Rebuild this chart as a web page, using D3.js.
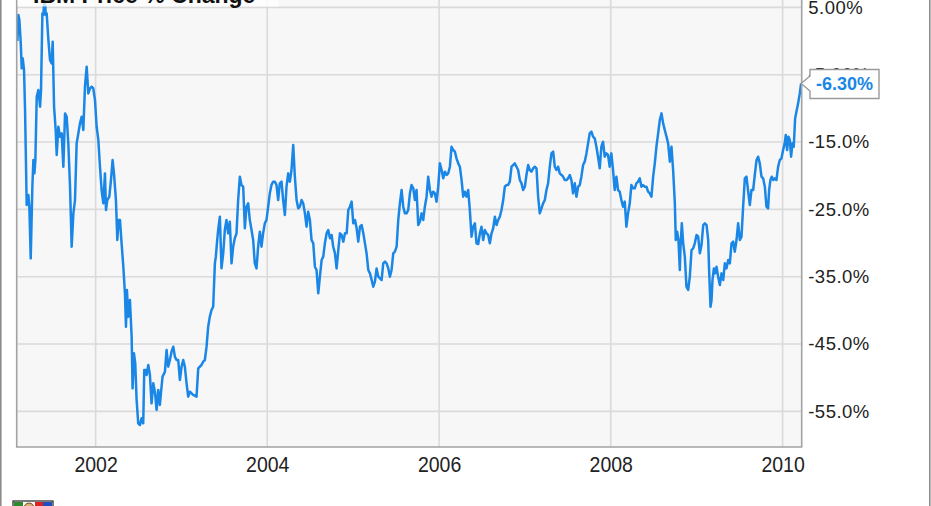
<!DOCTYPE html>
<html>
<head>
<meta charset="utf-8">
<script src="https://cdn.jsdelivr.net/npm/d3@7/dist/d3.min.js"></script>
<style>
  html, body { margin: 0; padding: 0; background: #fff; }
  svg { display: block; }
</style>
</head>
<body>
<svg id="chart" width="931" height="506"></svg>
<script>
// ---------------- DATA ----------------
const chartTitle = "IBM Price % Change";
const yTickValues = [5, -5, -15, -25, -35, -45, -55];
const xTickYears = [2002, 2004, 2006, 2008, 2010];
// [decimal year, % change since start]
const priceChange = [
  [2001.089,0.0],[2001.100,3.87],[2001.112,3.12],[2001.128,-0.34],[2001.139,-4.05],[2001.151,-2.57],[2001.166,-4.30],[2001.178,-10.24],
  [2001.197,-24.35],[2001.217,-22.87],[2001.228,-24.60],[2001.244,-32.27],[2001.263,-21.63],[2001.275,-17.67],[2001.287,-19.65],[2001.298,-17.67],
  [2001.314,-8.26],[2001.333,-7.27],[2001.353,-9.75],[2001.364,-7.27],[2001.380,4.11],[2001.391,3.87],[2001.407,7.0],[2001.419,3.87],
  [2001.430,4.11],[2001.450,0.15],[2001.469,-2.82],[2001.488,-3.31],[2001.500,-0.09],[2001.516,-9.75],[2001.535,-13.21],[2001.547,-16.92],
  [2001.566,-12.72],[2001.585,-14.20],[2001.605,-13.71],[2001.624,-18.66],[2001.644,-10.74],[2001.663,-11.23],[2001.682,-15.19],[2001.702,-21.63],
  [2001.721,-30.54],[2001.741,-25.59],[2001.760,-23.61],[2001.779,-15.19],[2001.799,-13.71],[2001.818,-12.22],[2001.838,-11.23],[2001.857,-13.21],
  [2001.876,-6.78],[2001.896,-3.81],[2001.915,-7.77],[2001.935,-7.02],[2001.954,-6.78],[2001.973,-7.02],[2001.993,-8.76],[2002.012,-12.72],
  [2002.032,-14.70],[2002.051,-18.66],[2002.070,-22.12],[2002.090,-24.10],[2002.109,-19.65],[2002.121,-25.09],[2002.136,-23.61],[2002.160,-23.11],
  [2002.179,-20.64],[2002.198,-17.67],[2002.214,-19.65],[2002.237,-23.61],[2002.253,-29.55],[2002.268,-26.58],[2002.284,-26.58],[2002.303,-30.04],
  [2002.323,-33.51],[2002.342,-37.47],[2002.354,-42.42],[2002.365,-36.97],[2002.381,-40.93],[2002.400,-38.46],[2002.420,-43.90],[2002.431,-51.58],
  [2002.447,-46.38],[2002.462,-47.86],[2002.478,-53.31],[2002.497,-56.77],[2002.517,-57.02],[2002.536,-56.03],[2002.555,-56.77],[2002.567,-48.85],
  [2002.583,-48.85],[2002.594,-49.59],[2002.614,-48.11],[2002.633,-49.59],[2002.652,-53.80],[2002.672,-50.83],[2002.691,-52.07],[2002.711,-54.79],
  [2002.730,-51.82],[2002.749,-54.05],[2002.761,-52.32],[2002.780,-49.84],[2002.808,-49.10],[2002.827,-45.88],[2002.846,-48.35],[2002.866,-47.37],
  [2002.885,-46.13],[2002.905,-45.39],[2002.924,-46.87],[2002.943,-47.37],[2002.963,-47.37],[2002.982,-50.34],[2003.002,-48.35],[2003.021,-47.37],
  [2003.040,-48.35],[2003.060,-50.83],[2003.079,-52.81],[2003.099,-52.07],[2003.118,-52.32],[2003.137,-52.56],[2003.176,-52.81],[2003.196,-48.60],
  [2003.215,-48.35],[2003.234,-48.11],[2003.254,-47.61],[2003.273,-47.37],[2003.293,-45.39],[2003.312,-42.42],[2003.331,-40.93],[2003.351,-39.94],
  [2003.370,-39.45],[2003.390,-33.01],[2003.401,-32.02],[2003.417,-29.55],[2003.428,-28.06],[2003.448,-26.08],[2003.467,-33.75],[2003.487,-31.53],
  [2003.506,-28.06],[2003.525,-26.58],[2003.545,-28.56],[2003.564,-26.83],[2003.584,-33.01],[2003.603,-30.54],[2003.622,-29.30],[2003.642,-28.56],
  [2003.661,-23.61],[2003.681,-20.14],
  [2003.700,-21.38],[2003.720,-21.63],[2003.739,-27.81],[2003.758,-24.60],[2003.778,-24.10],[2003.797,-26.58],[2003.817,-28.06],[2003.836,-29.55],
  [2003.855,-33.01],[2003.875,-33.76],[2003.894,-30.54],[2003.914,-28.31],[2003.933,-30.54],[2003.952,-28.56],[2003.972,-27.07],[2003.991,-26.58],
  [2004.011,-24.60],[2004.030,-22.62],[2004.049,-21.38],[2004.069,-20.88],[2004.088,-20.88],[2004.108,-21.38],[2004.127,-23.61],[2004.146,-21.13],
  [2004.166,-20.88],[2004.185,-23.61],[2004.205,-25.83],[2004.224,-21.63],[2004.244,-19.65],[2004.263,-20.88],[2004.282,-19.15],[2004.302,-15.44],
  [2004.321,-20.14],[2004.341,-23.61],[2004.360,-24.84],[2004.379,-24.60],[2004.399,-23.61],[2004.418,-24.10],[2004.438,-25.59],[2004.457,-27.57],
  [2004.476,-25.34],[2004.496,-26.58],[2004.515,-29.55],[2004.535,-30.04],[2004.554,-33.51],[2004.573,-34.00],[2004.593,-37.47],[2004.612,-34.99],
  [2004.632,-32.52],[2004.651,-32.02],[2004.670,-30.04],[2004.690,-28.56],[2004.709,-28.06],[2004.729,-29.30],[2004.748,-28.80],[2004.767,-30.54],
  [2004.787,-31.53],[2004.806,-33.76],[2004.826,-31.03],[2004.845,-28.56],[2004.864,-28.80],[2004.884,-29.79],[2004.903,-28.56],[2004.923,-28.56],
  [2004.942,-25.09],[2004.961,-24.60],[2004.981,-23.85],[2005.000,-27.07],[2005.020,-26.58],[2005.039,-27.81],[2005.058,-29.79],[2005.078,-27.57],
  [2005.097,-27.32],[2005.117,-28.56],[2005.136,-30.04],[2005.155,-31.53],[2005.175,-34.00],[2005.194,-34.50],[2005.214,-35.49],[2005.233,-36.48],
  [2005.252,-35.73],[2005.272,-33.76],[2005.291,-34.99],[2005.311,-35.24],[2005.330,-35.49],[2005.349,-33.01],[2005.369,-32.76],[2005.388,-33.01],
  [2005.408,-33.76],[2005.427,-34.99],[2005.446,-34.00],[2005.466,-31.53],[2005.485,-31.28],[2005.505,-30.54],[2005.524,-26.58],[2005.543,-24.10],
  [2005.563,-22.12],[2005.582,-24.60],[2005.602,-25.59],[2005.621,-25.59],[2005.640,-25.09],[2005.660,-22.62],[2005.679,-21.38],[2005.699,-21.87],
  [2005.718,-23.61],[2005.737,-22.12],[2005.757,-27.32],[2005.776,-26.82],[2005.796,-25.59],[2005.815,-26.58],[2005.834,-24.60],[2005.854,-23.11],
  [2005.873,-20.14],[2005.893,-22.12],[2005.912,-23.11],[2005.931,-22.37],[2005.951,-22.62],[2005.970,-23.85],[2005.990,-21.63],[2006.009,-18.16],
  [2006.029,-19.15],[2006.048,-20.39],[2006.067,-19.40],[2006.087,-19.89],[2006.106,-19.65],[2006.126,-18.66],[2006.145,-15.69],[2006.164,-16.18],
  [2006.184,-16.43],[2006.203,-17.42],[2006.223,-18.16],[2006.242,-18.66],
  [2006.262,-20.64],[2006.281,-23.11],[2006.300,-22.37],[2006.320,-23.11],[2006.339,-22.12],[2006.358,-25.09],[2006.378,-29.05],[2006.397,-27.57],
  [2006.417,-27.07],[2006.436,-30.04],[2006.456,-30.14],[2006.475,-28.56],[2006.494,-27.57],[2006.514,-29.55],[2006.533,-28.06],[2006.553,-28.56],
  [2006.572,-28.80],[2006.591,-30.04],[2006.611,-28.56],[2006.630,-27.81],[2006.650,-26.08],[2006.669,-27.32],[2006.688,-26.58],[2006.708,-26.08],
  [2006.727,-25.09],[2006.747,-23.61],[2006.766,-21.63],[2006.785,-21.38],[2006.805,-21.38],[2006.824,-20.88],[2006.844,-18.66],[2006.863,-18.41],
  [2006.882,-18.16],[2006.902,-18.66],[2006.921,-19.15],[2006.941,-20.64],[2006.960,-21.13],[2006.979,-22.12],[2006.999,-21.63],[2007.018,-19.89],
  [2007.038,-18.41],[2007.057,-19.15],[2007.076,-19.40],[2007.096,-18.90],[2007.115,-18.66],[2007.135,-18.90],[2007.154,-23.11],[2007.173,-25.59],
  [2007.193,-24.84],[2007.212,-24.10],[2007.232,-23.61],[2007.251,-22.12],[2007.270,-21.13],[2007.290,-18.66],[2007.309,-16.68],[2007.329,-16.43],
  [2007.348,-18.66],[2007.367,-19.15],[2007.387,-18.66],[2007.406,-19.65],[2007.426,-19.89],[2007.445,-20.14],[2007.464,-20.64],[2007.484,-20.64],
  [2007.503,-20.39],[2007.523,-19.89],[2007.542,-20.64],[2007.561,-22.62],[2007.581,-21.13],[2007.600,-23.11],[2007.620,-21.63],[2007.639,-21.38],
  [2007.658,-20.14],[2007.678,-18.41],[2007.697,-17.91],[2007.717,-16.68],[2007.736,-15.19],[2007.755,-13.71],[2007.775,-13.46],[2007.794,-14.20],
  [2007.813,-14.45],[2007.833,-15.69],[2007.852,-17.17],[2007.872,-18.90],[2007.891,-15.69],[2007.910,-14.95],[2007.930,-17.17],[2007.949,-16.68],
  [2007.969,-16.92],[2007.988,-18.66],[2008.007,-16.68],[2008.027,-19.15],[2008.046,-22.12],[2008.066,-20.14],[2008.085,-22.12],[2008.104,-22.37],
  [2008.124,-23.61],[2008.143,-24.60],[2008.163,-23.85],[2008.182,-27.57],[2008.201,-25.59],[2008.221,-24.10],[2008.240,-21.38],[2008.260,-21.87],
  [2008.279,-21.87],[2008.298,-21.13],[2008.318,-20.88],[2008.337,-20.39],[2008.357,-21.63],[2008.376,-21.38],[2008.395,-21.63],[2008.415,-21.63],
  [2008.434,-22.37],[2008.454,-22.62],[2008.473,-23.11],[2008.493,-20.14],[2008.512,-18.16],[2008.531,-15.69],[2008.551,-13.71],[2008.570,-11.73],
  [2008.590,-10.74],[2008.609,-12.22],[2008.628,-13.21],[2008.648,-14.20],[2008.667,-15.19],[2008.687,-17.91],[2008.706,-15.69],[2008.725,-19.15],
  [2008.745,-24.10],[2008.756,-29.55],[2008.772,-28.31],[2008.787,-29.55],[2008.803,-34.00],[2008.811,-30.54],[2008.826,-27.07],[2008.842,-30.04],
  [2008.861,-32.02],[2008.880,-36.48],[2008.900,-36.97],[2008.919,-34.99],[2008.939,-31.03],[2008.958,-30.78],[2008.977,-30.04],[2008.997,-28.80],
  [2009.016,-29.05],[2009.036,-31.53],
  [2009.055,-30.29],[2009.075,-27.32],[2009.094,-27.07],[2009.114,-27.32],[2009.133,-29.55],[2009.145,-34.50],[2009.160,-39.45],[2009.172,-38.46],
  [2009.183,-35.49],[2009.199,-33.76],[2009.214,-34.50],[2009.230,-33.51],[2009.249,-34.99],[2009.269,-36.23],[2009.288,-34.50],[2009.308,-35.49],
  [2009.327,-33.01],[2009.346,-33.76],[2009.366,-32.52],[2009.385,-33.01],[2009.405,-30.04],[2009.424,-29.79],[2009.443,-31.28],[2009.463,-29.55],
  [2009.482,-27.07],[2009.502,-29.55],[2009.521,-29.05],[2009.540,-24.60],[2009.560,-20.39],[2009.579,-20.14],[2009.599,-22.37],[2009.618,-24.35],
  [2009.637,-22.12],[2009.657,-22.12],[2009.676,-19.89],[2009.696,-17.67],[2009.715,-17.17],[2009.734,-18.16],[2009.754,-20.14],[2009.773,-20.39],
  [2009.793,-21.63],[2009.812,-24.60],[2009.831,-24.84],[2009.843,-22.12],[2009.858,-20.64],[2009.874,-20.14],[2009.890,-20.64],[2009.909,-20.39],
  [2009.928,-20.64],[2009.948,-18.66],[2009.967,-17.67],[2009.987,-17.42],[2010.006,-16.18],[2010.025,-15.19],[2010.037,-13.95],[2010.053,-16.18],
  [2010.068,-14.20],[2010.084,-14.70],[2010.099,-17.17],[2010.115,-15.19],[2010.130,-15.69],[2010.146,-11.48],[2010.161,-10.49],[2010.181,-9.25],
  [2010.200,-7.77],[2010.216,-6.30]
];

// ---------------- HELPERS ----------------
function yearToDate(y) {
  const yr = Math.floor(y);
  const a = new Date(yr, 0, 1), b = new Date(yr + 1, 0, 1);
  return new Date(+a + (y - yr) * (b - a));
}
const locale = d3.formatLocale({decimal: ".", thousands: ",", grouping: [3], currency: ["$", ""], minus: "-"});
const pctFmt = d => locale.format(".3r")(d) + "%";
const series = priceChange.map(([t, v]) => ({date: yearToDate(t), value: v}));

// ---------------- LAYOUT ----------------
const W = 931, H = 506;
const plot = {left: 16.7, right: 801.7, top: -30, bottom: 447};
const FONT = "'Liberation Sans', Arial, Helvetica, sans-serif";
const lineColor = "#1a86e6";

const svg = d3.select("#chart");

const x = d3.scaleTime()
  .domain([new Date(2002, 0, 1), new Date(2010, 0, 1)])
  .range([95.6, 782.6]);
const y = d3.scaleLinear()
  .domain([5, -55])
  .range([7.4, 411.4]);

// outer frame
svg.append("line").attr("x1", 0.8).attr("x2", 0.8).attr("y1", 0).attr("y2", H)
  .attr("stroke", "#8c8c8c").attr("stroke-width", 1.6);
svg.append("line").attr("x1", 929.8).attr("x2", 929.8).attr("y1", 0).attr("y2", H)
  .attr("stroke", "#8c8c8c").attr("stroke-width", 1.6);

// plot background
svg.append("rect")
  .attr("x", plot.left).attr("y", plot.top)
  .attr("width", plot.right - plot.left).attr("height", plot.bottom - plot.top)
  .attr("fill", "#f7f7f7");

// grid lines
svg.append("g").selectAll("line").data(yTickValues).join("line")
  .attr("x1", plot.left).attr("x2", plot.right)
  .attr("y1", d => y(d)).attr("y2", d => y(d))
  .attr("stroke", "#dadada").attr("stroke-width", 1.6);
svg.append("g").selectAll("line").data(xTickYears).join("line")
  .attr("x1", d => x(new Date(d, 0, 1))).attr("x2", d => x(new Date(d, 0, 1)))
  .attr("y1", plot.top).attr("y2", plot.bottom)
  .attr("stroke", "#dadada").attr("stroke-width", 1.6);

// clip
svg.append("clipPath").attr("id", "plotClip").append("rect")
  .attr("x", plot.left).attr("y", plot.top)
  .attr("width", plot.right - plot.left).attr("height", plot.bottom - plot.top);

// line
const line = d3.line().x(d => x(d.date)).y(d => y(d.value)).curve(d3.curveLinear);
svg.append("path")
  .datum(series)
  .attr("clip-path", "url(#plotClip)")
  .attr("fill", "none")
  .attr("stroke", lineColor)
  .attr("stroke-width", 2.5)
  .attr("stroke-linejoin", "round")
  .attr("d", line);

// plot border (left, bottom, right)
svg.append("path")
  .attr("d", `M${plot.left},${plot.top}V${plot.bottom}H${plot.right}V${plot.top}`)
  .attr("fill", "none").attr("stroke", "#a3a3a3").attr("stroke-width", 1.6);

// x axis
const xAxis = d3.axisBottom(x)
  .tickValues(xTickYears.map(d => new Date(d, 0, 1)))
  .tickFormat(d3.timeFormat("%Y"))
  .tickSize(0).tickPadding(0);
const gx = svg.append("g").attr("transform", `translate(0,${plot.bottom})`).call(xAxis);
gx.select(".domain").remove();
gx.selectAll(".tick text")
  .attr("font-family", FONT).attr("font-size", 19.5).attr("fill", "#222")
  .attr("dy", null).attr("y", 0)
  .attr("dominant-baseline", "central")
  .attr("transform", "translate(0,17) scale(1,1.1)");

// y axis (right)
const yAxis = d3.axisRight(y)
  .tickValues(yTickValues)
  .tickFormat(pctFmt)
  .tickSize(0).tickPadding(6.5);
const gy = svg.append("g").attr("transform", `translate(${plot.right},0)`).call(yAxis);
gy.select(".domain").remove();
gy.selectAll(".tick text")
  .attr("font-family", FONT).attr("font-size", 18.5).attr("fill", "#222")
  .attr("letter-spacing", 0.5);

// title box (semi-transparent, partially cropped)
svg.append("rect")
  .attr("x", plot.left + 1).attr("y", -30)
  .attr("width", 261).attr("height", 36.5)
  .attr("fill", "#ffffff").attr("fill-opacity", 0.78);
svg.append("text")
  .attr("x", 33).attr("y", 2.5)
  .attr("font-family", FONT).attr("font-weight", "bold").attr("font-size", 23)
  .attr("fill", "#111")
  .text(chartTitle);

// last-value callout
const last = series[series.length - 1];
const tipX = x(last.date), tipY = y(last.value);
const bx = 810, bw = 69, bh = 29, by = tipY - 14;
svg.append("path")
  .attr("d", `M${tipX},${tipY} L${bx},${tipY - 7.5} V${by} H${bx + bw} V${by + bh} H${bx} V${tipY + 7.5} Z`)
  .attr("fill", "#fff").attr("stroke", "#9a9a9a").attr("stroke-width", 1.4);
svg.append("text")
  .attr("x", bx + bw / 2).attr("y", by + bh / 2 + 0.5)
  .attr("text-anchor", "middle").attr("dominant-baseline", "central")
  .attr("font-family", FONT).attr("font-weight", "bold").attr("font-size", 18)
  .attr("fill", lineColor)
  .text(pctFmt(last.value));

// small logo at bottom-left (cropped)
const logo = svg.append("g").attr("transform", "translate(13,501)");
logo.append("rect").attr("width", 40).attr("height", 12).attr("fill", "#fff").attr("stroke", "#222").attr("stroke-width", 1.2);
logo.append("rect").attr("x", 1).attr("y", 1).attr("width", 9).attr("height", 10).attr("fill", "#2d8a2d");
logo.append("circle").attr("cx", 16).attr("cy", 7).attr("r", 5).attr("fill", "#d9b37a").attr("stroke", "#6b4a1f");
logo.append("rect").attr("x", 22).attr("y", 1).attr("width", 8).attr("height", 10).attr("fill", "#d22");
logo.append("rect").attr("x", 30).attr("y", 1).attr("width", 9).attr("height", 10).attr("fill", "#1f4fbf");
</script>
</body>
</html>
